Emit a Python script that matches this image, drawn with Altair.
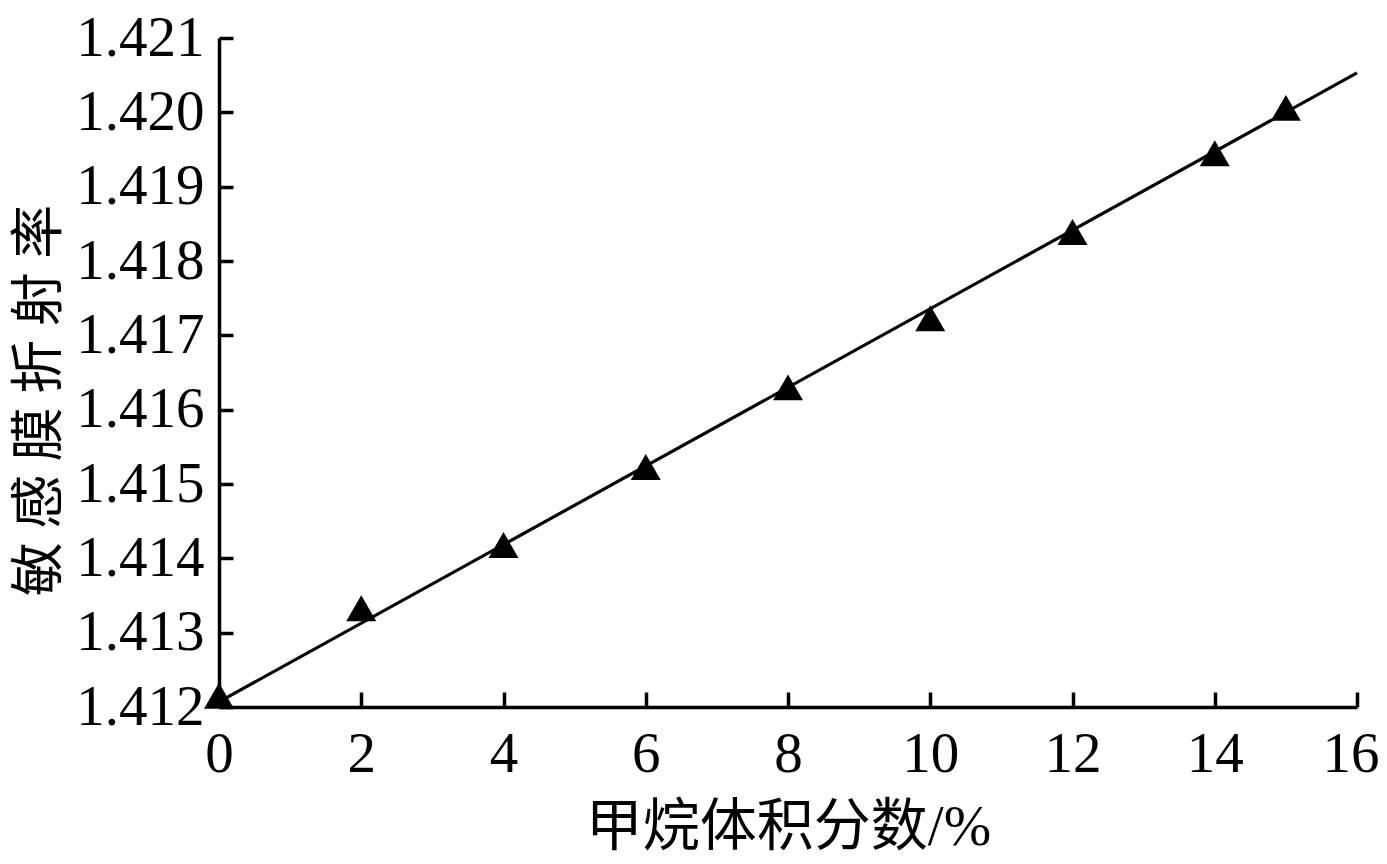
import altair as alt
import pandas as pd

# Measured data (methane volume fraction % vs. sensitive-film refractive index)
x_vals = [0, 2, 4, 6, 8, 10, 12, 14, 15]
n_vals = [1.41215, 1.41333, 1.41418, 1.41523, 1.41630, 1.41723, 1.41839, 1.41945, 1.42006]

# Fitted straight line end points
fit_x = [0, 16]
fit_n = [1.41207, 1.42053]

x_ticks = [0, 2, 4, 6, 8, 10, 12, 14, 16]
y_ticks = [1.412, 1.413, 1.414, 1.415, 1.416, 1.417, 1.418, 1.419, 1.420, 1.421]

x_title = "甲烷体积分数/%"
y_title = "敏 感 膜 折 射 率"

LABEL_FONT = "Liberation Serif"
TITLE_FONT = "Liberation Serif, Noto Sans CJK SC"

pts = pd.DataFrame({"x": x_vals, "n": n_vals})
fit = pd.DataFrame({"x": fit_x, "n": fit_n})

xscale = alt.Scale(domain=[0, 16], nice=False, zero=False)
yscale = alt.Scale(domain=[1.412, 1.421], nice=False, zero=False)

last_tick = "datum.value >= 16"

main_x_axis = alt.Axis(
    values=x_ticks, format="d", grid=False, ticks=False,
    domain=True, domainColor="black", domainWidth=3.5,
    labelFont=LABEL_FONT, labelFontSize=57, labelColor="black",
    labelPadding=19, labelBaseline="top", labelFlush=False,
    labelAlign={"condition": {"test": last_tick, "value": "right"}, "value": "center"},
    labelOffset={"condition": {"test": last_tick, "value": 22}, "value": 0},
    title=x_title, titleFont=TITLE_FONT, titleFontSize=57,
    titleFontWeight="normal", titleColor="black",
    titleBaseline="alphabetic", titleY=137,
)
main_y_axis = alt.Axis(
    values=y_ticks, format=".3f", grid=False, ticks=False,
    domain=True, domainColor="black", domainWidth=3.5,
    labelFont=LABEL_FONT, labelFontSize=57, labelColor="black",
    labelPadding=15, labelFlush=False,
    title=y_title, titleFont=TITLE_FONT, titleFontSize=54,
    titleFontWeight="normal", titleColor="black",
    titleBaseline="alphabetic", titleAngle=270, titleAlign="center",
    titleX=-163, titleY=362,
)
tick_x_axis = alt.Axis(
    orient="top", offset=-669, values=x_ticks, grid=False,
    domain=False, labels=False, ticks=True, tickSize=15,
    tickWidth=3.5, tickColor="black", title=None,
)
tick_y_axis = alt.Axis(
    orient="right", offset=-1138, values=y_ticks, grid=False,
    domain=False, labels=False, ticks=True, tickSize=14,
    tickWidth=3.5, tickColor="black", title=None,
)

line = alt.Chart(fit).mark_line(color="black", strokeWidth=3.2).encode(
    x=alt.X("x:Q", scale=xscale, axis=main_x_axis),
    y=alt.Y("n:Q", scale=yscale, axis=main_y_axis),
)

points = alt.Chart(pts).mark_point(
    shape="triangle-up", filled=True, color="black", opacity=1, size=900
).encode(
    x=alt.X("x:Q", scale=xscale, axis=tick_x_axis),
    y=alt.Y("n:Q", scale=yscale, axis=tick_y_axis),
)

chart = alt.layer(line, points).resolve_axis(
    x="independent", y="independent"
).properties(
    width=1138,
    height=669,
    autosize=alt.AutoSizeParams(type="none"),
    padding={"left": 211, "top": 30, "right": 22, "bottom": 149},
    background="white",
).configure_view(strokeWidth=0)

chart.save("out.html", embed_options={"renderer": "svg", "actions": False})
